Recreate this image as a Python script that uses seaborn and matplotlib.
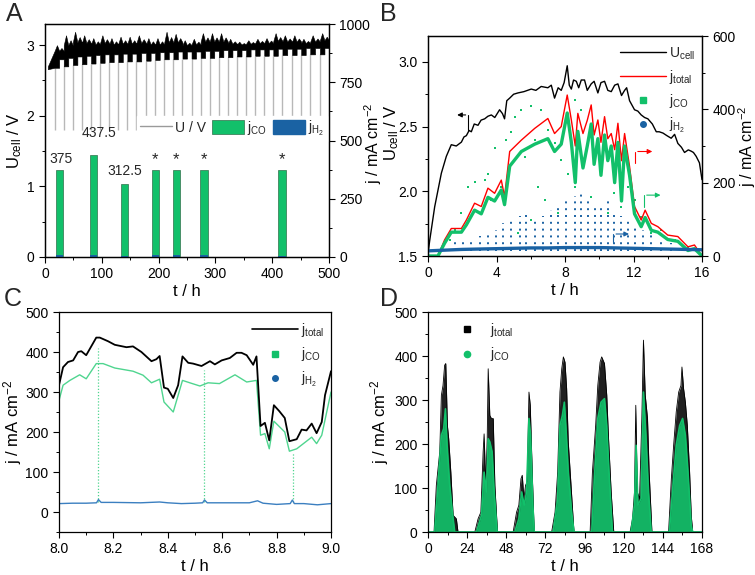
import matplotlib
matplotlib.use("Agg")
import matplotlib.pyplot as plt
from matplotlib.lines import Line2D
from matplotlib.patches import Patch
from matplotlib.ticker import MultipleLocator, FormatStrFormatter
import seaborn as sns

# ---------------- data ----------------
# A: long-term run, one light/dark cycle per 16 h
cycle_t = [17, 33, 49, 65, 81, 97, 113, 129, 145, 161, 178, 194, 210, 226, 242,
           258, 274, 290, 306, 322, 338, 354, 370, 386, 402, 418, 435, 451, 467, 484]
u_floor = [2.68, 2.70, 2.72, 2.73, 2.74, 2.75, 2.76, 2.76, 2.77, 2.77, 2.78, 2.79, 2.80, 2.80, 2.81,
           2.81, 2.82, 2.82, 2.83, 2.83, 2.84, 2.84, 2.85, 2.85, 2.85, 2.86, 2.86, 2.86, 2.87, 2.87]
u_base = [2.80, 2.82, 2.84, 2.85, 2.86, 2.87, 2.87, 2.88, 2.88, 2.89, 2.89, 2.90, 2.90, 2.91, 2.91,
          2.91, 2.92, 2.92, 2.93, 2.93, 2.93, 2.94, 2.94, 2.94, 2.95, 2.95, 2.95, 2.96, 2.96, 2.96]
u_typ = [2.92, 3.00, 3.04, 3.03, 3.01, 3.03, 3.01, 3.02, 3.02, 3.03, 3.01, 3.01, 3.04, 3.04, 3.00,
         3.01, 3.05, 3.05, 3.05, 3.02, 3.01, 3.02, 3.03, 3.03, 3.06, 3.05, 3.05, 3.03, 3.05, 3.07]
u_top = [3.00, 3.14, 3.19, 3.14, 3.10, 3.14, 3.10, 3.12, 3.12, 3.14, 3.10, 3.10, 3.19, 3.16, 3.07,
         3.09, 3.17, 3.17, 3.17, 3.09, 3.05, 3.07, 3.09, 3.10, 3.17, 3.14, 3.14, 3.09, 3.14, 3.17]
u_drop = 1.8

bar_t = [25, 85, 140, 194, 231, 280, 417]
bar_co = [375, 437.5, 312.5, 375, 375, 375, 375]
bar_h2 = [8, 10, 6, 8, 7, 10, 6]
bar_text = ["375", "437.5", "312.5", "*", "*", "*", "*"]

# B: one 16 h day
b_u_t = [0.0, 0.1, 0.39, 0.78, 1.07, 1.36, 1.65, 1.95, 2.1, 2.24, 2.4, 2.53, 2.7, 2.92, 3.1, 3.31,
         3.5, 3.7, 3.9, 4.18, 4.35, 4.47, 4.6, 4.77, 5.0, 5.25, 5.6, 6.03, 6.3, 6.61, 7.0, 7.2,
         7.39, 7.6, 7.78, 7.95, 8.13, 8.25, 8.37, 8.5, 8.66, 8.8, 8.95, 9.14, 9.3, 9.53, 9.7,
         9.92, 10.1, 10.31, 10.5, 10.7, 10.9, 11.09, 11.3, 11.48, 11.6, 11.77, 12.06, 12.25,
         12.45, 12.65, 12.84, 13.1, 13.33, 13.5, 13.72, 13.95, 14.2, 14.4, 14.59, 14.8, 14.98,
         15.2, 15.37, 15.5, 15.66, 15.85, 16.0]
b_u = [1.52, 1.62, 1.88, 2.14, 2.27, 2.36, 2.35, 2.38, 2.42, 2.43, 2.47, 2.46, 2.52, 2.51, 2.55,
       2.56, 2.58, 2.59, 2.57, 2.63, 2.60, 2.56, 2.70, 2.72, 2.75, 2.76, 2.77, 2.79, 2.78, 2.81,
       2.80, 2.82, 2.72, 2.80, 2.78, 2.84, 2.97, 2.82, 2.79, 2.86, 2.85, 2.80, 2.86, 2.86, 2.78,
       2.83, 2.85, 2.76, 2.84, 2.85, 2.78, 2.77, 2.82, 2.83, 2.74, 2.78, 2.80, 2.70, 2.63, 2.62,
       2.59, 2.57, 2.56, 2.52, 2.46, 2.46, 2.45, 2.43, 2.41, 2.44, 2.37, 2.34, 2.30, 2.32, 2.31,
       2.30, 2.27, 2.22, 2.09]
b_j_t = [0.0, 0.58, 0.97, 1.36, 1.95, 2.24, 2.72, 3.11, 3.5, 3.89, 4.28, 4.47, 4.77, 5.45, 6.23,
         7.0, 7.39, 7.78, 8.13, 8.37, 8.6, 8.75, 9.05, 9.3, 9.53, 9.7, 9.92, 10.1, 10.31, 10.5,
         10.7, 10.9, 11.09, 11.3, 11.48, 11.77, 12.06, 12.45, 12.68, 13.04, 13.42, 14.0, 14.59,
         15.18, 15.56, 16.0]
b_jtot = [0, 0, 44, 75, 75, 98, 144, 135, 185, 171, 207, 162, 285, 316, 348, 375, 334, 353, 439,
          371, 300, 389, 334, 370, 412, 330, 371, 310, 380, 320, 334, 290, 362, 260, 334, 244,
          135, 98, 125, 89, 80, 57, 53, 25, 30, 0]
b_jco = [0, 0, 35, 65, 65, 85, 125, 115, 160, 150, 180, 140, 245, 285, 305, 320, 285, 305, 390,
         310, 200, 340, 240, 300, 360, 250, 320, 220, 330, 260, 300, 200, 310, 150, 300, 220,
         115, 80, 105, 70, 65, 45, 40, 15, 20, 0]
b_h2_t = [0, 1, 2, 3, 4, 5, 6, 7, 8, 9, 10, 11, 12, 13, 14, 15, 16]
b_jh2 = [14, 16, 18, 19, 20, 21, 22, 22, 23, 23, 23, 22, 21, 20, 19, 18, 17]
b_co_pts_t = [6.03, 5.45, 5.06, 4.86, 4.57, 3.89, 3.50, 3.31, 2.72, 2.33, 1.95, 1.56, 1.26, 3.70,
              4.28, 6.61, 7.00, 7.39, 7.78, 8.17, 8.56, 8.95, 9.34, 9.73, 10.12, 10.51, 10.89,
              11.28, 11.67, 12.06, 12.45, 13.04, 13.62, 14.40, 15.18, 6.23, 5.64, 6.42, 6.81,
              7.59, 6.03, 5.25, 8.56, 9.53, 10.51]
b_co_pts_j = [409, 398, 380, 339, 316, 294, 225, 207, 203, 189, 116, 71, 44, 153, 189, 398, 344,
              307, 262, 225, 189, 398, 316, 262, 244, 280, 171, 135, 189, 153, 107, 62, 71, 44,
              25, 316, 271, 189, 153, 116, 98, 62, 425, 162, 116]
b_h2_streak_t = [1.56, 2.04, 2.53, 3.02, 3.50, 3.99, 4.38, 4.86, 5.35, 5.74, 6.23, 6.71, 7.20,
                 7.59, 8.07, 8.56, 8.95, 9.34, 9.73, 10.12, 10.51, 10.89, 11.28, 11.67, 12.06,
                 12.55, 13.04, 13.62, 14.20]
b_h2_streak_top = [40, 45, 50, 55, 60, 70, 90, 100, 110, 120, 95, 110, 125, 140, 150, 165, 175,
                   150, 140, 135, 150, 120, 110, 95, 80, 70, 60, 45, 35]

# C: zoom 8-9 h
c_tot_t = [8.0, 8.015, 8.033, 8.052, 8.07, 8.082, 8.10, 8.137, 8.15, 8.18, 8.205, 8.248, 8.272,
           8.303, 8.34, 8.358, 8.37, 8.386, 8.40, 8.42, 8.438, 8.454, 8.475, 8.493, 8.524, 8.555,
           8.573, 8.598, 8.628, 8.653, 8.671, 8.69, 8.714, 8.726, 8.741, 8.757, 8.773, 8.79,
           8.81, 8.83, 8.847, 8.874, 8.892, 8.91, 8.929, 8.947, 8.966, 8.978, 9.0]
c_tot = [317, 362, 375, 379, 400, 402, 392, 436, 436, 427, 418, 412, 414, 400, 377, 382, 390,
         311, 308, 285, 317, 389, 373, 371, 365, 377, 369, 379, 385, 398, 398, 392, 368, 389,
         215, 223, 179, 267, 252, 235, 177, 182, 206, 204, 221, 197, 225, 292, 352]
c_co_t = [8.0, 8.015, 8.04, 8.076, 8.10, 8.137, 8.162, 8.205, 8.272, 8.309, 8.34, 8.37, 8.386,
          8.42, 8.454, 8.481, 8.518, 8.548, 8.59, 8.647, 8.69, 8.726, 8.741, 8.757, 8.773, 8.79,
          8.83, 8.847, 8.874, 8.91, 8.929, 8.947, 8.966, 9.0]
c_co = [279, 317, 329, 343, 333, 371, 371, 360, 352, 342, 323, 332, 275, 250, 329, 323, 315,
        323, 321, 343, 325, 329, 192, 196, 158, 227, 200, 152, 158, 177, 187, 171, 192, 300]
c_h2_t = [8.0, 8.05, 8.10, 8.138, 8.145, 8.155, 8.2, 8.3, 8.37, 8.4, 8.45, 8.5, 8.528, 8.535,
          8.545, 8.6, 8.7, 8.73, 8.75, 8.8, 8.85, 8.858, 8.865, 8.9, 8.95, 9.0]
c_h2 = [21, 22, 22, 23, 31, 24, 24, 23, 25, 23, 21, 22, 23, 30, 23, 23, 23, 28, 22, 19, 21, 30,
        21, 21, 18, 21]
c_spike_t = [8.142, 8.533, 8.862]
c_spike_top = [410, 355, 150]

# D: one week
d_tot_t = [0, 3.7, 5.1, 7.2, 8.2, 9.2, 10.2, 10.9, 11.9, 12.7, 14.0, 15.4, 17.4, 18.4,
           28.7, 30.7, 32.4, 33.8, 34.4, 35.4, 36.3, 36.9, 37.9, 38.9, 40.0, 41.0, 42.6,
           52.2, 54.3, 55.7, 57.0, 57.8, 58.8, 59.8, 60.8, 61.9, 62.7, 63.9, 65.1,
           75.8, 77.9, 79.5, 80.9, 82.0, 83.0, 84.0, 85.0, 86.0, 87.7, 89.5,
           99.4, 100.8, 102.8, 104.1, 105.5, 106.5, 108.2, 109.6, 110.6, 112.3, 113.9,
           123.9, 125.4, 126.6, 127.4, 128.3, 129.7, 131.1, 132.1, 133.2, 134.6, 135.6, 137.3,
           147.5, 149.2, 150.6, 152.2, 153.7, 155.1, 155.7, 156.7, 157.8, 159.0, 160.4, 161.4,
           162.3, 168]
d_tot = [0, 0, 106, 182, 311, 333, 379, 383, 242, 212, 136, 38, 30, 0,
         0, 30, 45, 182, 223, 106, 212, 371, 265, 258, 258, 106, 0,
         0, 45, 61, 121, 129, 76, 106, 114, 318, 288, 136, 0,
         0, 45, 136, 318, 371, 398, 386, 326, 205, 106, 0,
         0, 136, 242, 333, 386, 398, 383, 311, 220, 91, 0,
         0, 30, 91, 288, 91, 76, 258, 436, 311, 258, 136, 0,
         0, 121, 197, 273, 318, 333, 375, 326, 295, 242, 136, 38, 0, 0]
d_co_t = [0, 4.1, 6.1, 8.2, 9.6, 10.7, 11.7, 13.3, 15.4, 16.4,
          29.7, 32.8, 34.4, 35.9, 36.9, 37.9, 39.3, 40.6, 42.4,
          53.2, 55.7, 57.4, 59.0, 60.4, 61.9, 62.9, 64.3, 65.1,
          76.8, 79.5, 80.9, 82.4, 83.6, 84.6, 86.0, 88.1, 89.5,
          100.4, 102.0, 104.1, 106.1, 108.2, 109.6, 111.2, 113.1,
          124.5, 126.6, 127.6, 128.7, 130.7, 132.1, 133.6, 135.2, 136.9,
          148.0, 150.2, 152.2, 154.3, 156.1, 157.8, 159.4, 161.4, 162.3, 168]
d_co = [0, 0, 106, 220, 235, 280, 197, 106, 30, 0,
        0, 38, 136, 91, 212, 205, 182, 91, 0,
        0, 30, 91, 61, 91, 258, 220, 61, 0,
        0, 76, 242, 265, 295, 235, 136, 45, 0,
        0, 121, 258, 295, 303, 242, 121, 0,
        0, 61, 197, 61, 76, 318, 220, 91, 0,
        0, 106, 197, 242, 258, 220, 136, 15, 0, 0]

# ---------------- style ----------------
GREEN = "#12C06A"
LGREEN = "#4FD58F"
BLUE = "#1A62A3"
RED = "#FF0000"

sns.set_theme(style="ticks")
plt.rcParams["font.family"] = ["Liberation Sans", "DejaVu Sans"]
plt.rcParams.update({
    "mathtext.fontset": "custom", "mathtext.rm": "Liberation Sans",
    "mathtext.it": "Liberation Sans:italic", "mathtext.default": "regular",
    "axes.edgecolor": "black", "axes.linewidth": 0.9, "axes.labelcolor": "black",
    "xtick.color": "black", "ytick.color": "black",
    "xtick.labelsize": 10, "ytick.labelsize": 10, "axes.labelsize": 12,
    "xtick.major.size": 4, "ytick.major.size": 4, "xtick.minor.size": 2, "ytick.minor.size": 2,
    "xtick.major.width": 0.8, "ytick.major.width": 0.8,
    "xtick.minor.width": 0.7, "ytick.minor.width": 0.7,
    "axes.labelpad": 2,
})
LEG_FS = 10

W, H = 755, 575
fig = plt.figure(figsize=(W / 100, H / 100), dpi=100)


def px_axes(x0, y0, x1, y1):
    return fig.add_axes([x0 / W, 1 - y1 / H, (x1 - x0) / W, (y1 - y0) / H])


def box(ax):
    for s in ax.spines.values():
        s.set_visible(True)
        s.set_color("black")


# ---------------- A ----------------
axA = px_axes(45, 24, 329, 257)
box(axA)
axA.vlines(cycle_t, u_drop, u_floor, color="#B8B8B8", lw=1.0, zorder=1)
bx, blo, bhi = [5.0], [2.66], [2.70]
for i, t0 in enumerate(cycle_t):
    t1 = cycle_t[i + 1] if i + 1 < len(cycle_t) else 500
    tm = (t0 + t1) / 2
    bx += [t0, (t0 + tm) / 2, tm, tm, (tm + t1) / 2, t1]
    blo += [u_floor[i]] * 3 + [u_base[i]] * 3
    bhi += [u_typ[i], u_top[i], u_typ[i], u_typ[i], (u_typ[i] + u_top[i]) / 2, u_typ[i]]
axA.fill_between(bx, blo, bhi, color="black", lw=0.4, zorder=2)
axA.set_xlim(0, 500)
axA.set_ylim(0, 3.3)
axA.xaxis.set_major_locator(MultipleLocator(100))
axA.xaxis.set_minor_locator(MultipleLocator(50))
axA.yaxis.set_major_locator(MultipleLocator(1))
axA.yaxis.set_minor_locator(MultipleLocator(0.5))
axA.set_xlabel("t / h")
axA.set_ylabel("U$_{cell}$ / V")

axA2 = axA.twinx()
axA2.bar(bar_t, bar_co, width=13, color=GREEN, edgecolor="#2F6F4A", lw=0.5)
axA2.bar(bar_t, bar_h2, width=13, color=BLUE, lw=0)
label_dx = [3, 10, 0, 0, 0, 0, 0]
label_dy = [16, 65, 28, 45, 45, 45, 45]
for t, v, s, dx, dy in zip(bar_t, bar_co, bar_text, label_dx, label_dy):
    axA2.text(t + dx, v + dy, s, ha="center", va="bottom" if s != "*" else "center",
              fontsize=10 if s != "*" else 12)
axA2.set_ylim(0, 1000)
axA2.yaxis.set_major_locator(MultipleLocator(250))
axA2.yaxis.set_minor_locator(MultipleLocator(125))
axA2.set_ylabel("j / mA cm$^{-2}$", fontsize=11.5)
axA2.yaxis.set_label_coords(1.118, 0.49)
legA = axA2.legend(
    handles=[Line2D([], [], color="#9A9A9A", lw=1),
             Patch(facecolor=GREEN, edgecolor="#2F6F4A", lw=0.5),
             Patch(facecolor=BLUE, edgecolor=BLUE)],
    labels=["U / V", "j$_{CO}$", "j$_{H_2}$"], ncol=3, loc="upper left",
    bbox_to_anchor=(0.30, 0.635), frameon=True, framealpha=1, edgecolor="white",
    facecolor="white", fontsize=LEG_FS, handlelength=2.3, handleheight=1.2,
    columnspacing=0.4, handletextpad=0.25, borderpad=0.2, fancybox=False)
legA.set_zorder(10)

# ---------------- B ----------------
axB = px_axes(428, 36, 702, 256)
box(axB)
sns.lineplot(x=b_u_t, y=b_u, ax=axB, color="black", lw=1.0, estimator=None, sort=False)
axB.plot([2.36, 2.36], [2.47, 2.59], color="black", lw=0.8)
axB.annotate("", xy=(1.54, 2.59), xytext=(2.36, 2.59),
             arrowprops=dict(arrowstyle="-|>", color="black", lw=0.8, mutation_scale=7))
axB.set_xlim(0, 16)
axB.set_ylim(1.5, 3.2)
axB.xaxis.set_major_locator(MultipleLocator(4))
axB.xaxis.set_minor_locator(MultipleLocator(2))
axB.yaxis.set_major_locator(MultipleLocator(0.5))
axB.yaxis.set_minor_locator(MultipleLocator(0.25))
axB.set_xlabel("t / h")
axB.set_ylabel("U$_{cell}$ / V")
axB.yaxis.set_label_coords(-0.10, 0.56)

axB2 = axB.twinx()
axB2.vlines(b_h2_streak_t, 15, b_h2_streak_top, color=BLUE, lw=1.4, linestyles=(0, (1, 2.5)))
sns.scatterplot(x=b_co_pts_t, y=b_co_pts_j, ax=axB2, color=GREEN, marker="s", s=3, linewidth=0)
sns.lineplot(x=b_j_t, y=b_jtot, ax=axB2, color=RED, lw=1.0, estimator=None, sort=False)
sns.lineplot(x=b_j_t, y=b_jco, ax=axB2, color=GREEN, lw=2.4, estimator=None, sort=False)
sns.lineplot(x=b_h2_t, y=b_jh2, ax=axB2, color=BLUE, lw=2.4, estimator=None, sort=False)
for (xv, y0, y1, x1, col) in [(12.09, 253, 285, 13.26, RED), (12.61, 135, 166, 13.74, GREEN),
                              (10.82, 39, 60, 11.9, BLUE)]:
    axB2.plot([xv, xv], [y0, y1], color=col, lw=0.8)
    axB2.annotate("", xy=(x1, y1), xytext=(xv, y1),
                  arrowprops=dict(arrowstyle="-|>", color=col, lw=0.8, mutation_scale=7))
axB2.set_ylim(0, 600)
axB2.yaxis.set_major_locator(MultipleLocator(200))
axB2.yaxis.set_minor_locator(MultipleLocator(100))
axB2.set_ylabel("j / mA cm$^{-2}$", fontsize=11.5)
axB2.yaxis.set_label_coords(1.125, 0.5)
axB2.legend(
    handles=[Line2D([], [], color="black", lw=1), Line2D([], [], color=RED, lw=1),
             Line2D([], [], color=GREEN, marker="s", ls="", ms=4),
             Line2D([], [], color=BLUE, marker="o", ls="", ms=4)],
    labels=["U$_{cell}$", "j$_{total}$", "j$_{CO}$", "j$_{H_2}$"], loc="upper right",
    bbox_to_anchor=(1.0, 0.99), frameon=False, fontsize=LEG_FS, handlelength=3.3,
    handletextpad=0.2, labelspacing=0.45, borderaxespad=0.1)

# ---------------- C ----------------
axC = px_axes(59, 312, 331, 532)
box(axC)
axC.vlines(c_spike_t, 25, c_spike_top, color=LGREEN, lw=0.9, linestyles=(0, (1, 1.5)))
sns.lineplot(x=c_h2_t, y=c_h2, ax=axC, color="#3B7FC0", lw=1.0, estimator=None, sort=False)
sns.lineplot(x=c_co_t, y=c_co, ax=axC, color=LGREEN, lw=1.0, estimator=None, sort=False)
sns.lineplot(x=c_tot_t, y=c_tot, ax=axC, color="black", lw=1.3, estimator=None, sort=False)
axC.set_xlim(8.0, 9.0)
axC.set_ylim(-50, 500)
axC.xaxis.set_major_locator(MultipleLocator(0.2))
axC.xaxis.set_minor_locator(MultipleLocator(0.1))
axC.yaxis.set_major_locator(MultipleLocator(100))
axC.yaxis.set_minor_locator(MultipleLocator(50))
axC.xaxis.set_major_formatter(FormatStrFormatter("%.1f"))
axC.set_xlabel("t / h")
axC.set_ylabel("j / mA cm$^{-2}$", labelpad=1)
axC.legend(
    handles=[Line2D([], [], color="black", lw=1.2),
             Line2D([], [], color=GREEN, marker="s", ls="", ms=4),
             Line2D([], [], color=BLUE, marker="o", ls="", ms=4)],
    labels=["j$_{total}$", "j$_{CO}$", "j$_{H_2}$"], loc="upper right",
    bbox_to_anchor=(1.0, 0.99), frameon=False, fontsize=LEG_FS, handlelength=3.3,
    handletextpad=0.2, labelspacing=0.45, borderaxespad=0.1)

# ---------------- D ----------------
axD = px_axes(428, 312, 702, 532)
box(axD)
axD.fill_between(d_tot_t, 0, d_tot, color="#202020", lw=0)
sns.lineplot(x=d_tot_t, y=d_tot, ax=axD, color="black", lw=0.6, estimator=None, sort=False)
axD.fill_between(d_co_t, 0, d_co, color=GREEN, lw=0, alpha=0.92)
sns.lineplot(x=d_co_t, y=d_co, ax=axD, color=GREEN, lw=1.2, estimator=None, sort=False)
axD.set_xlim(0, 168)
axD.set_ylim(0, 500)
axD.xaxis.set_major_locator(MultipleLocator(24))
axD.xaxis.set_minor_locator(MultipleLocator(12))
axD.yaxis.set_major_locator(MultipleLocator(100))
axD.yaxis.set_minor_locator(MultipleLocator(50))
axD.set_xlabel("t / h")
axD.set_ylabel("j / mA cm$^{-2}$")
axD.legend(
    handles=[Line2D([], [], color="black", marker="s", ls="", ms=4),
             Line2D([], [], color=GREEN, marker="o", ls="", ms=4.5)],
    labels=["j$_{total}$", "j$_{CO}$"], loc="upper left", bbox_to_anchor=(0.04, 0.99),
    frameon=False, fontsize=LEG_FS, handlelength=3.0, handletextpad=0.2, labelspacing=0.45,
    borderaxespad=0.1)

# ---------------- panel letters ----------------
for s, x, y in [("A", 6, 21), ("B", 380, 21), ("C", 4, 306), ("D", 380, 306)]:
    fig.text(x / W, 1 - y / H, s, fontsize=18, ha="left", va="baseline")

fig.savefig("out.png", dpi=100)
